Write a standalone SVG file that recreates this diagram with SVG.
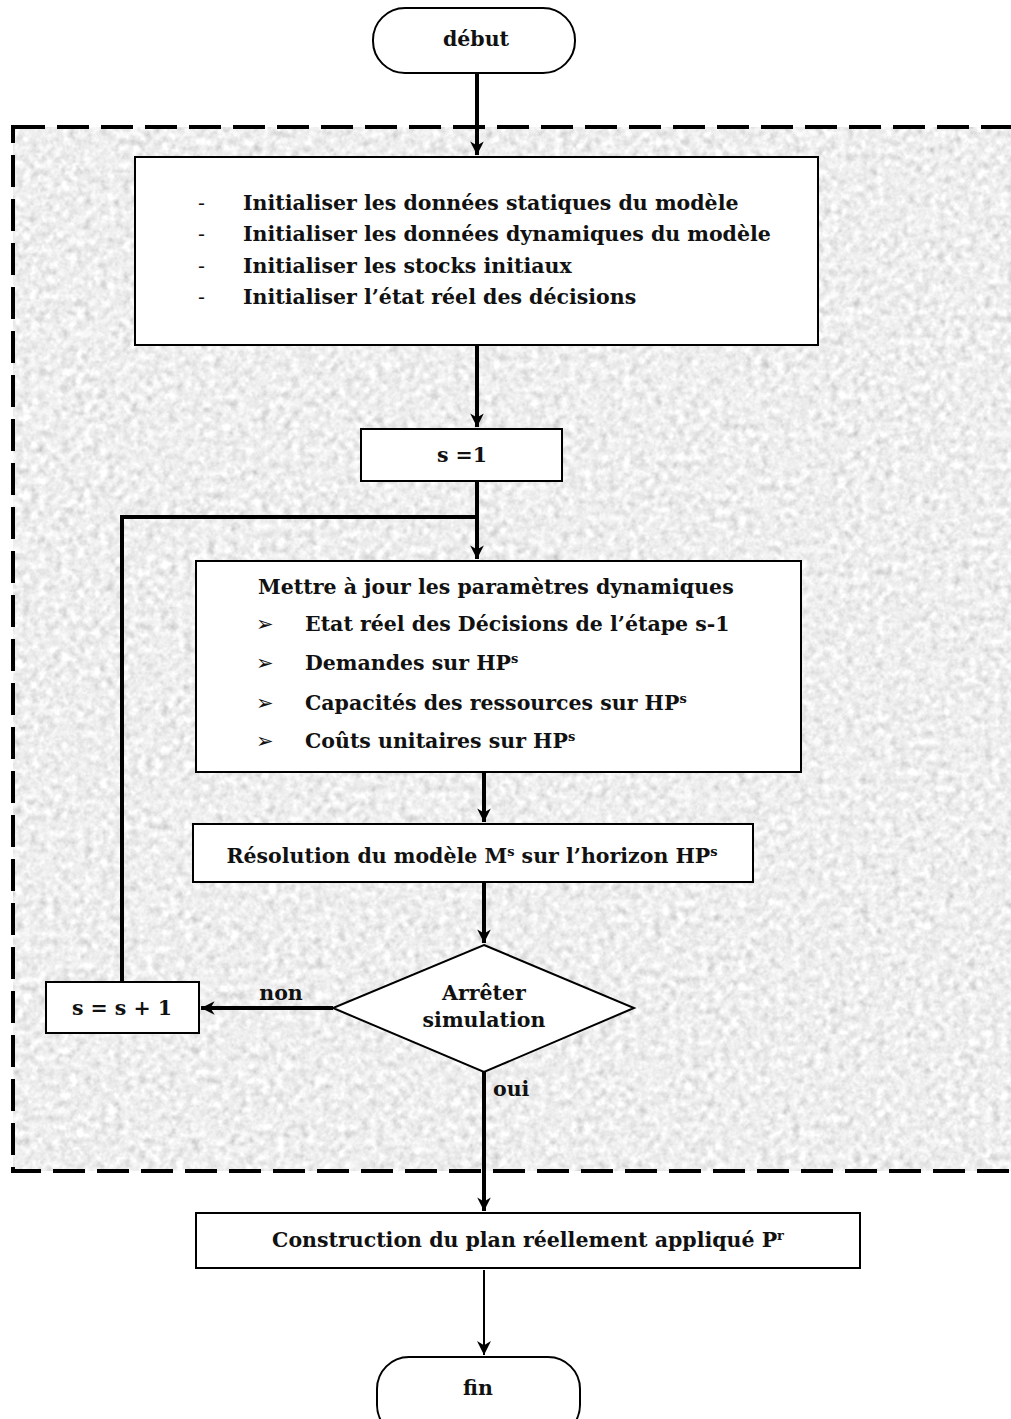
<svg xmlns="http://www.w3.org/2000/svg" width="1011" height="1419" viewBox="0 0 1011 1419">
<style>
text{font-family:"DejaVu Serif","Liberation Serif",serif;font-weight:bold;font-size:20.5px;fill:#111}
.box{fill:#fff;stroke:#000;stroke-width:2}
.c{text-anchor:middle}
.con{fill:none;stroke:#000;stroke-width:4}
.thin{fill:none;stroke:#000;stroke-width:2}
.bul{font-family:"DejaVu Sans",sans-serif;font-weight:normal;font-size:21px}
.sup{font-size:13px}
</style>
<defs>
<filter id="tex" x="0" y="0" width="100%" height="100%" filterUnits="objectBoundingBox">
<feTurbulence type="fractalNoise" baseFrequency="0.13" numOctaves="3" seed="7" result="n"/>
<feColorMatrix in="n" type="matrix" values="0.33 0.33 0.33 0 0.36  0.33 0.33 0.33 0 0.36  0.33 0.33 0.33 0 0.36  0 0 0 0 1"/>
</filter>
<marker id="ah" viewBox="0 0 10 10" refX="10" refY="5" markerWidth="3.4" markerHeight="3.4" orient="auto" markerUnits="strokeWidth">
<path d="M0,0 L10,5 L0,10 L3,5 z" fill="#000"/>
</marker>
<marker id="ah2" viewBox="0 0 10 10" refX="10" refY="5" markerWidth="7" markerHeight="7" orient="auto" markerUnits="strokeWidth">
<path d="M0,0 L10,5 L0,10 L3,5 z" fill="#000"/>
</marker>
</defs>
<rect width="1011" height="1419" fill="#fff"/>
<g id="zone">
<rect x="13" y="127" width="1010" height="1044" fill="#ddd" filter="url(#tex)"/>
<rect x="13" y="127" width="1010" height="1044" fill="none" stroke="#000" stroke-width="4" stroke-dasharray="32 12"/>
</g>
<g id="connectors">
<line class="con" x1="477" y1="73" x2="477" y2="155" marker-end="url(#ah)"/>
<line class="con" x1="477" y1="345" x2="477" y2="427" marker-end="url(#ah)"/>
<polyline class="con" points="477,481 477,517 122,517 122,982"/>
<line class="con" x1="477" y1="515" x2="477" y2="559" marker-end="url(#ah)"/>
<line class="con" x1="484" y1="772" x2="484" y2="822" marker-end="url(#ah)"/>
<line class="con" x1="484" y1="882" x2="484" y2="943" marker-end="url(#ah)"/>
<line class="con" x1="333" y1="1008" x2="201" y2="1008" marker-end="url(#ah)"/>
<line class="con" x1="484" y1="1072" x2="484" y2="1211" marker-end="url(#ah)"/>
<line class="thin" x1="484" y1="1270" x2="484" y2="1355" marker-end="url(#ah2)"/>
<text x="281" y="1000" class="c">non</text>
<text x="493" y="1096">oui</text>
</g>
<g id="debut">
<rect class="box" x="373" y="8" width="202" height="65" rx="32" ry="32"/>
<text x="476" y="46" class="c">début</text>
</g>
<g id="init">
<rect class="box" x="135" y="157" width="683" height="188"/>
<text x="198" y="210" style="font-weight:normal">-</text>
<text x="243" y="210">Initialiser les données statiques du modèle</text>
<text x="198" y="241" style="font-weight:normal">-</text>
<text x="243" y="241">Initialiser les données dynamiques du modèle</text>
<text x="198" y="273" style="font-weight:normal">-</text>
<text x="243" y="273">Initialiser les stocks initiaux</text>
<text x="198" y="304" style="font-weight:normal">-</text>
<text x="243" y="304">Initialiser l’état réel des décisions</text>
</g>
<g id="s1">
<rect class="box" x="361" y="429" width="201" height="52"/>
<text x="462" y="462" class="c">s =1</text>
</g>
<g id="maj">
<rect class="box" x="196" y="561" width="605" height="211"/>
<text x="258" y="594">Mettre à jour les paramètres dynamiques</text>
<text x="256" y="631" class="bul">➢</text>
<text x="305" y="631">Etat réel des Décisions  de l’étape s-1</text>
<text x="256" y="670" class="bul">➢</text>
<text x="305" y="670">Demandes sur HP<tspan class="sup" dy="-7">s</tspan></text>
<text x="256" y="710" class="bul">➢</text>
<text x="305" y="710">Capacités des ressources sur HP<tspan class="sup" dy="-7">s</tspan></text>
<text x="256" y="748" class="bul">➢</text>
<text x="305" y="748">Coûts unitaires sur HP<tspan class="sup" dy="-7">s</tspan></text>
</g>
<g id="resol">
<rect class="box" x="193" y="824" width="560" height="58"/>
<text x="472" y="863" class="c">Résolution du modèle M<tspan class="sup" dy="-7">s</tspan><tspan dy="7"> sur l’horizon HP</tspan><tspan class="sup" dy="-7">s</tspan></text>
</g>
<g id="arreter">
<polygon points="484,945 634,1008 484,1072 333,1008" fill="#fff" stroke="#000" stroke-width="2"/>
<text x="484" y="1000" class="c">Arrêter</text>
<text x="484" y="1027" class="c">simulation</text>
</g>
<g id="incr">
<rect class="box" x="46" y="982" width="153" height="51"/>
<text x="122" y="1015" class="c">s = s + 1</text>
</g>
<g id="constr">
<rect class="box" x="196" y="1213" width="664" height="55"/>
<text x="528" y="1247" class="c">Construction du plan réellement appliqué P<tspan class="sup" dy="-7">r</tspan></text>
</g>
<g id="fin">
<rect class="box" x="377" y="1357" width="203" height="80" rx="32" ry="32"/>
<text x="478" y="1395" class="c">fin</text>
</g>
</svg>
